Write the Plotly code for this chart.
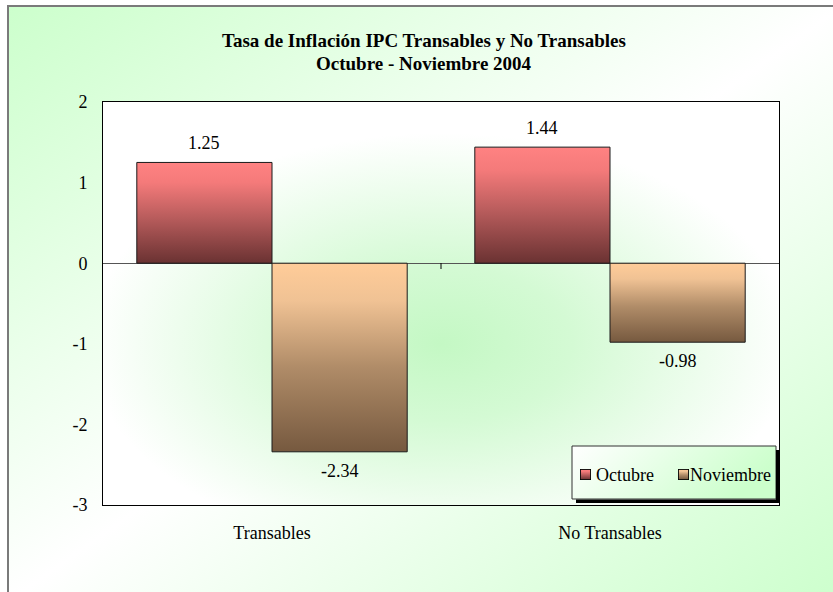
import base64
import plotly.graph_objects as go

# ---------------- data ----------------
categories = ["Transables", "No Transables"]
series_names = ["Octubre", "Noviembre"]
octubre = [1.25, 1.44]
noviembre = [-2.34, -0.98]
y_ticks = [2, 1, 0, -1, -2, -3]

title_line1 = "Tasa de Inflación IPC Transables y No Transables"
title_line2 = "Octubre - Noviembre 2004"

# ---------------- style ----------------
FONT = "Times New Roman, Liberation Serif, serif"
FS = 18
W, H = 833, 592
L, R, T, B = 103, 779, 102, 505  # plot area in pixels
GREEN = "#CCFFCC"
series_colors = {
    "Octubre": [[0, "#6A3232"], [0.45, "#B85C5C"], [0.8, "#F47A7A"], [1, "#FF8282"]],
    "Noviembre": [[0, "#76593F"], [0.45, "#B08C68"], [0.8, "#F0C294"], [1, "#FFCC99"]],
}
bar_w = 0.4


def px_x(p):
    return (p - L) / (R - L)


def px_y(p):
    return (B - p) / (B - T)


def svg_uri(defs, fill_id):
    svg = (
        '<svg xmlns="http://www.w3.org/2000/svg" width="100" height="100" '
        'viewBox="0 0 100 100" preserveAspectRatio="none">'
        f"<defs>{defs}</defs>"
        f'<rect x="0" y="0" width="100" height="100" fill="url(#{fill_id})"/></svg>'
    )
    return "data:image/svg+xml;base64," + base64.b64encode(svg.encode()).decode()


paper_grad = svg_uri(
    '<linearGradient id="g" x1="0" y1="0" x2="1" y2="1">'
    f'<stop offset="0" stop-color="{GREEN}"/><stop offset="0.5" stop-color="#FFFFFF"/>'
    f'<stop offset="1" stop-color="{GREEN}"/></linearGradient>', "g")
plot_grad = svg_uri(
    '<radialGradient id="r" cx="0.5" cy="0.6" r="0.55">'
    '<stop offset="0" stop-color="#C4F8C4"/><stop offset="0.35" stop-color="#D4FAD4"/>'
    '<stop offset="0.95" stop-color="#FFFFFF"/></radialGradient>', "r")
legend_grad = svg_uri(
    '<linearGradient id="l" x1="0" y1="0" x2="1" y2="0.3">'
    f'<stop offset="0" stop-color="#FFFFFF"/><stop offset="1" stop-color="{GREEN}"/></linearGradient>', "l")


def swatch(cs):
    stops = "".join(f'<stop offset="{1 - o}" stop-color="{c}"/>' for o, c in reversed(cs))
    svg = (
        '<svg xmlns="http://www.w3.org/2000/svg" width="100" height="100" '
        'viewBox="0 0 100 100" preserveAspectRatio="none">'
        f'<defs><linearGradient id="s" x1="0" y1="0" x2="0" y2="1">{stops}</linearGradient></defs>'
        '<rect x="4" y="4" width="92" height="92" fill="url(#s)" stroke="#000" stroke-width="8"/></svg>'
    )
    return "data:image/svg+xml;base64," + base64.b64encode(svg.encode()).decode()


fig = go.Figure()

# bars as gradient-filled polygons in data coordinates
for s_idx, (name, vals) in enumerate(zip(series_names, [octubre, noviembre])):
    for i, v in enumerate(vals):
        x0 = i - bar_w + s_idx * bar_w
        x1 = x0 + bar_w
        fig.add_trace(go.Scatter(
            x=[x0, x0, x1, x1, x0], y=[0, v, v, 0, 0],
            mode="lines", fill="toself",
            fillgradient=dict(type="vertical", colorscale=series_colors[name]),
            line=dict(color="#1a1a1a", width=1),
            name=name, showlegend=False, hoverinfo="skip",
        ))
        fig.add_annotation(
            x=(x0 + x1) / 2, y=v, xref="x", yref="y",
            text=f"{v:.2f}", showarrow=False,
            yshift=19 if v >= 0 else -19, yanchor="middle",
            font=dict(family=FONT, size=FS, color="black"),
        )

images = [
    dict(source=paper_grad, xref="paper", yref="paper", x=px_x(8), y=px_y(6),
         sizex=px_x(W + 10) - px_x(8), sizey=px_y(6) - px_y(H + 10),
         xanchor="left", yanchor="top", sizing="stretch", layer="below"),
    dict(source=plot_grad, xref="paper", yref="paper", x=0, y=1, sizex=1, sizey=1,
         xanchor="left", yanchor="top", sizing="stretch", layer="below"),
    dict(source=legend_grad, xref="paper", yref="paper", x=px_x(572), y=px_y(446),
         sizex=px_x(776) - px_x(572), sizey=px_y(446) - px_y(499),
         xanchor="left", yanchor="top", sizing="stretch", layer="below"),
]
# legend swatches
leg_items = [(series_names[0], 580, 595), (series_names[1], 678, 689)]
for name, sx, tx in leg_items:
    images.append(dict(source=swatch(series_colors[name]), xref="paper", yref="paper",
                       x=px_x(sx), y=px_y(469), sizex=px_x(sx + 11) - px_x(sx),
                       sizey=px_y(469) - px_y(480), xanchor="left", yanchor="top",
                       sizing="stretch", layer="above"))
    fig.add_annotation(x=px_x(tx), y=px_y(474.5), xref="paper", yref="paper",
                       text=name, showarrow=False, xanchor="left", yanchor="middle",
                       xshift=-1, font=dict(family=FONT, size=FS, color="black"))

shapes = [
    # outer chart border
    dict(type="rect", xref="paper", yref="paper", x0=px_x(8), x1=px_x(W + 20),
         y0=px_y(H + 20), y1=px_y(6), line=dict(color="#7a7a7a", width=2), layer="below"),
    # legend border and shadow
    dict(type="rect", xref="paper", yref="paper", x0=px_x(572), x1=px_x(776),
         y0=px_y(499), y1=px_y(446), line=dict(color="#333333", width=1), layer="above"),
    dict(type="rect", xref="paper", yref="paper", x0=px_x(776), x1=px_x(779.5),
         y0=px_y(503), y1=px_y(450), fillcolor="black", line=dict(width=0), layer="above"),
    dict(type="rect", xref="paper", yref="paper", x0=px_x(576), x1=px_x(779.5),
         y0=px_y(503), y1=px_y(499.5), fillcolor="black", line=dict(width=0), layer="above"),
    # category separator tick on the zero line
    dict(type="line", xref="x", yref="paper", x0=(len(categories) - 1) / 2,
         x1=(len(categories) - 1) / 2, y0=px_y(263), y1=px_y(269),
         line=dict(color="black", width=1)),
]

# title
for txt, ypx in [(title_line1, 40), (title_line2, 63)]:
    fig.add_annotation(x=px_x(424), y=px_y(ypx), xref="paper", yref="paper",
                       text=f"<b>{txt}</b>", showarrow=False, yanchor="middle",
                       font=dict(family=FONT, size=19, color="black"))

fig.update_layout(
    width=W, height=H,
    margin=dict(l=L, r=W - R, t=T, b=H - B, pad=0),
    paper_bgcolor="white", plot_bgcolor="rgba(0,0,0,0)",
    showlegend=False, images=images, shapes=shapes,
    font=dict(family=FONT, size=FS, color="black"),
)
fig.update_xaxes(
    range=[-0.5, len(categories) - 0.5], tickvals=list(range(len(categories))),
    ticktext=categories, ticks="", showgrid=False, zeroline=False,
    showline=True, mirror=True, linecolor="black", linewidth=1,
    ticklabelstandoff=11, tickfont=dict(family=FONT, size=FS, color="black"),
)
fig.update_yaxes(
    range=[min(y_ticks), max(y_ticks)], tickvals=y_ticks,
    ticktext=[str(t) for t in y_ticks], ticks="", showgrid=False,
    zeroline=True, zerolinecolor="#555555", zerolinewidth=1,
    showline=True, mirror=True, linecolor="black", linewidth=1,
    ticklabelstandoff=11, tickfont=dict(family=FONT, size=FS, color="black"),
)

fig.write_html("out.html", config={"displayModeBar": False},
               post_script="document.body.style.margin='0';")
